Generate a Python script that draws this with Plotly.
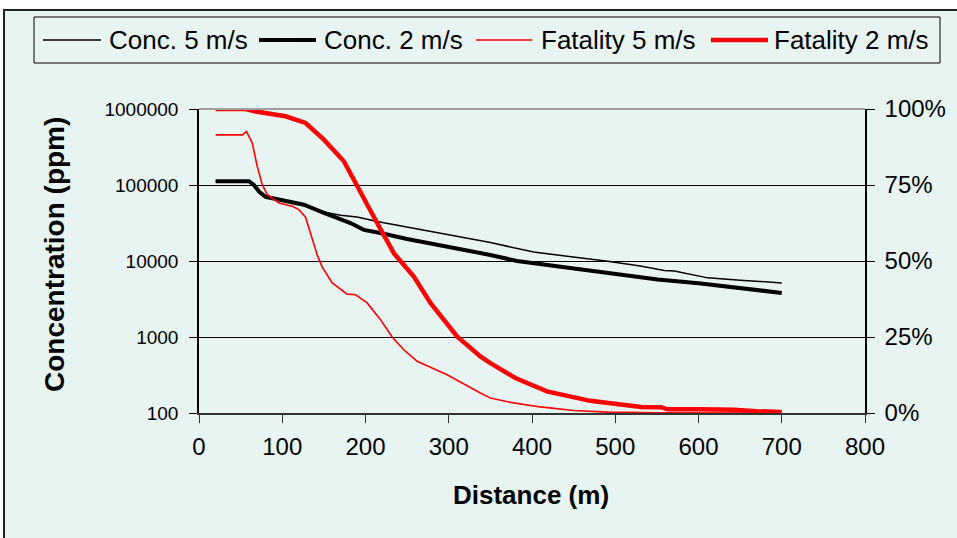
import plotly.graph_objects as go

# Downwind distance (m) and concentration (ppm) for each wind speed
dist_conc_5 = [20, 60, 65, 70, 78, 90, 120, 150, 170, 182, 190, 214, 250, 290, 314,
               350, 402, 450, 491, 530, 559, 571, 611, 650, 700]
conc_5 = [112000, 112000, 104000, 88000, 72000, 66000, 56000, 44000, 40000, 38500,
          38000, 33000, 28000, 23400, 21000, 17500, 13100, 11300, 9900, 8600, 7500,
          7400, 6000, 5600, 5150]

dist_conc_2 = [20, 60, 66, 72, 80, 90, 126, 150, 162, 182, 198, 218, 250, 290, 314,
               350, 382, 420, 458, 500, 551, 600, 650, 700]
conc_2 = [112000, 112000, 100000, 82000, 70000, 66000, 55000, 43000, 38600, 31600,
          25700, 23400, 19500, 16000, 14500, 12000, 10000, 8800, 7700, 6700, 5700,
          5100, 4400, 3800]

# Fatality probability (%) for each wind speed
dist_fat_5 = [20, 52, 57, 64, 70, 76, 82, 96, 112, 120, 128, 134, 142, 148, 160, 178,
              188, 202, 218, 232, 246, 262, 298, 338, 350, 374, 410, 450, 490, 550, 700]
fat_5 = [91.5, 91.5, 92.6, 88.8, 81.1, 75.1, 71.8, 69.1, 68.0, 66.9, 64.4, 59.2, 52.0,
         48.0, 42.8, 39.1, 38.9, 36.2, 30.7, 25.0, 20.8, 17.0, 12.6, 6.6, 4.9, 3.5,
         2.0, 0.8, 0.3, 0.1, 0.0]

dist_fat_2 = [20, 56, 68, 80, 104, 128, 150, 174, 190, 214, 234, 258, 278, 310, 338,
              350, 380, 418, 470, 531, 555, 563, 600, 643, 670, 700]
fat_2 = [100, 100, 99.2, 98.7, 97.6, 95.4, 89.9, 82.8, 74.5, 62.5, 52.6, 44.9, 36.2,
         25.2, 18.6, 16.4, 11.5, 7.1, 4.0, 2.0, 1.9, 1.2, 1.2, 1.1, 0.6, 0.3]

conc_ticks = [100, 1000, 10000, 100000, 1000000]
conc_tick_text = ["100", "1000", "10000", "100000", "1000000"]
fat_ticks = [0, 25, 50, 75, 100]
fat_tick_text = ["0%", "25%", "50%", "75%", "100%"]
dist_ticks = [0, 100, 200, 300, 400, 500, 600, 700, 800]

series = [
    ("Conc. 5 m/s", dist_conc_5, conc_5, "y", "#000000", 1.5),
    ("Conc. 2 m/s", dist_conc_2, conc_2, "y", "#000000", 4.0),
    ("Fatality 5 m/s", dist_fat_5, fat_5, "y2", "#FF0000", 1.6),
    ("Fatality 2 m/s", dist_fat_2, fat_2, "y2", "#FF0000", 4.5),
]

W, H = 957, 538
L, R, T, B = 199, 865, 109, 413
BG = "#E8F4F2"
FONT = "Arial, Liberation Sans, sans-serif"


def px(x):
    return (x - L) / (R - L)


def py(y):
    return (B - y) / (B - T)


fig = go.Figure()
for name, xs, ys, axis, color, width in series:
    fig.add_trace(go.Scatter(
        x=xs, y=ys, name=name, yaxis=axis, mode="lines",
        line=dict(color=color, width=width), showlegend=False,
    ))

shapes = [
    # chart frame
    dict(type="rect", xref="paper", yref="paper", layer="below",
         x0=px(4), x1=px(1000), y0=py(10), y1=py(620),
         fillcolor=BG, line=dict(color="#222222", width=2)),
    # plot area top border
    dict(type="line", xref="paper", yref="paper",
         x0=0, x1=1, y0=1, y1=1, line=dict(color="#A0A0A0", width=2)),
    # legend box
    dict(type="rect", xref="paper", yref="paper",
         x0=px(34), x1=px(940), y0=py(17), y1=py(63),
         fillcolor=BG, line=dict(color="#000000", width=1)),
]

annotations = []
legend_pos = [(43, 101, 107), (259, 316, 322), (476, 532, 539), (711, 768, 772)]
for (name, _, _, _, color, width), (lx0, lx1, tx) in zip(series, legend_pos):
    shapes.append(dict(type="line", xref="paper", yref="paper",
                       x0=px(lx0), x1=px(lx1), y0=py(40), y1=py(40),
                       line=dict(color=color, width=width)))
    annotations.append(dict(text=name, xref="paper", yref="paper",
                            x=px(tx), y=py(40), xanchor="left", yanchor="middle",
                            showarrow=False, font=dict(size=26, color="#000000")))

annotations.append(dict(text="<b>Distance (m)</b>", xref="paper", yref="paper",
                        x=px(531), y=py(495), xanchor="center", yanchor="middle",
                        showarrow=False, font=dict(size=26, color="#000000")))
annotations.append(dict(text="<b>Concentration (ppm)</b>", xref="paper", yref="paper",
                        x=px(54), y=py(255), xanchor="center", yanchor="middle",
                        textangle=-90, showarrow=False,
                        font=dict(size=28, color="#000000")))

fig.update_layout(
    width=W, height=H,
    margin=dict(l=L, r=W - R, t=T, b=H - B, autoexpand=False),
    paper_bgcolor="#FFFFFF",
    plot_bgcolor="rgba(0,0,0,0)",
    font=dict(family=FONT, color="#000000"),
    shapes=shapes,
    annotations=annotations,
    xaxis=dict(
        range=[0, 800], tickvals=dist_ticks, showgrid=False, zeroline=False,
        showline=True, linecolor="#333333", linewidth=1.5,
        ticks="outside", ticklen=8, tickcolor="#333333",
        tickfont=dict(size=24), ticklabelstandoff=3,
    ),
    yaxis=dict(
        type="log", range=[2, 6], tickvals=conc_ticks, ticktext=conc_tick_text,
        showgrid=True, gridcolor="#000000", gridwidth=1, zeroline=False,
        showline=True, linecolor="#000000", linewidth=1.5,
        ticks="outside", ticklen=8, tickcolor="#000000",
        tickfont=dict(size=19), ticklabelstandoff=7,
    ),
    yaxis2=dict(
        range=[0, 100], tickvals=fat_ticks, ticktext=fat_tick_text,
        overlaying="y", side="right", showgrid=False, zeroline=False,
        showline=True, linecolor="#000000", linewidth=1.5,
        ticks="outside", ticklen=8, tickcolor="#000000",
        tickfont=dict(size=24), ticklabelstandoff=5,
    ),
)

fig.write_html("out.html")
